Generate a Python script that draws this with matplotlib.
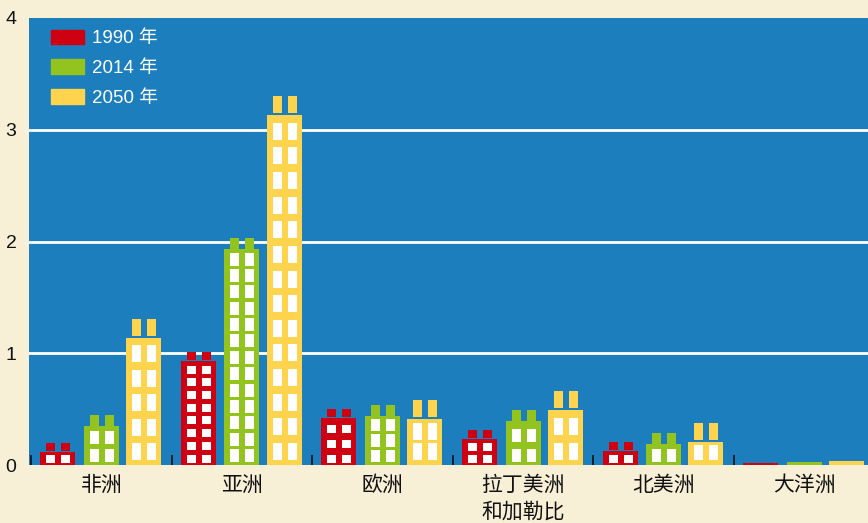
import matplotlib.pyplot as plt
from matplotlib.patches import Patch
import numpy as np

# --- data (urban population, billions) ---
regions = ["非洲", "亚洲", "欧洲", "拉丁美洲\n和加勒比", "北美洲", "大洋洲"]
years = ["1990 年", "2014 年", "2050 年"]
pop_1990 = [0.20, 1.01, 0.50, 0.31, 0.21, 0.02]
pop_2014 = [0.45, 2.03, 0.54, 0.49, 0.29, 0.03]
pop_2050 = [1.31, 3.30, 0.58, 0.66, 0.38, 0.04]
yticks = [0, 1, 2, 3, 4]

# --- style ---
BG = "#f8f0d6"
BLUE = "#1c7ebc"
COLORS = ["#cf0012", "#92c31f", "#fed44e"]
FONT = ["Liberation Sans", "Noto Sans CJK SC"]
plt.rcParams["font.family"] = FONT

# building geometry in pixels: chimney height, chimney gap, window pitch, window h, bottom margin
BUILD = [
    dict(ch=8, cg=1, pitch=13, wh=8, mb=2.5),
    dict(ch=11, cg=0, pitch=17, wh=13, mb=3),
    dict(ch=17, cg=2, pitch=24, wh=17, mb=5),
]

fig = plt.figure(figsize=(8.68, 5.23), dpi=100, facecolor=BG)
ax = fig.add_axes([29 / 868, 58 / 523, 839 / 868, 447 / 523])
ax.set_facecolor(BLUE)

XPX = 140.6  # px per category
YPX = 447 / 4  # px per y unit
ax.set_xlim(-0.5 - 2 / XPX, -0.5 + (868 - 31) / XPX)
ax.set_ylim(0, 4)

for v in [1, 2, 3]:
    ax.axhline(v, color="white", lw=2, zorder=1)

x = np.arange(len(regions))
width = 35 / XPX
offsets = [-0.31, 0.0, 0.30]
series = [pop_1990, pop_2014, pop_2050]
col_l = [6 / XPX, 21 / XPX]  # window/chimney column offsets from bar left
col_w = 9 / XPX

for s, vals in enumerate(series):
    g = BUILD[s]
    xs = x + offsets[s]
    for xi, v in zip(xs, vals):
        left = xi - width / 2
        top_body = v - (g["ch"] + g["cg"]) / YPX
        if top_body < 0.1:
            ax.bar(xi, v, width=width, color=COLORS[s], zorder=2)
            continue
        ax.bar(xi, top_body, width=width, color=COLORS[s], zorder=2)
        H = top_body * YPX
        n = max(1, int((H - g["mb"]) / g["pitch"] + 0.5))
        pa = (H - g["mb"]) / n
        wh = min(g["wh"], pa - 3)
        for c in col_l:
            cx = left + c + col_w / 2
            ax.bar(cx, g["ch"] / YPX, bottom=v - g["ch"] / YPX, width=col_w,
                   color=COLORS[s], zorder=2)
            for i in range(n):
                ax.bar(cx, wh / YPX, bottom=(g["mb"] + i * pa) / YPX, width=col_w,
                       color="white", zorder=3)

# axes decoration
for sp in ax.spines.values():
    sp.set_visible(False)
ax.set_yticks(yticks)
ax.set_yticklabels([str(t) for t in yticks], fontsize=14, color="#111111")
ax.tick_params(axis="y", length=0, pad=9)
ax.set_xticks(x)
ax.set_xticklabels([])
ax.tick_params(axis="x", which="major", length=0)
ax.set_xticks(np.arange(len(regions)) - 0.5, minor=True)
ax.tick_params(axis="x", which="minor", direction="in", length=7.5, width=1.2,
               color="#111111")

# category labels, one text per line so every first line sits at the same height
for xi, lab in zip(x, regions):
    for k, line in enumerate(lab.split("\n")):
        ax.text(xi, -(20.5 + 26.5 * k) / 447, line, transform=ax.get_xaxis_transform(),
                ha="center", va="center", fontsize=15, color="#111111")

handles = [Patch(color=c) for c in COLORS]
leg = ax.legend(handles, years, loc="upper left", bbox_to_anchor=(0.006, 1.012),
                frameon=False, fontsize=13.5, labelcolor="white",
                handlelength=1.75, handleheight=0.85, handletextpad=0.45,
                labelspacing=0.62)

fig.savefig("out.png", dpi=100, facecolor=BG)
